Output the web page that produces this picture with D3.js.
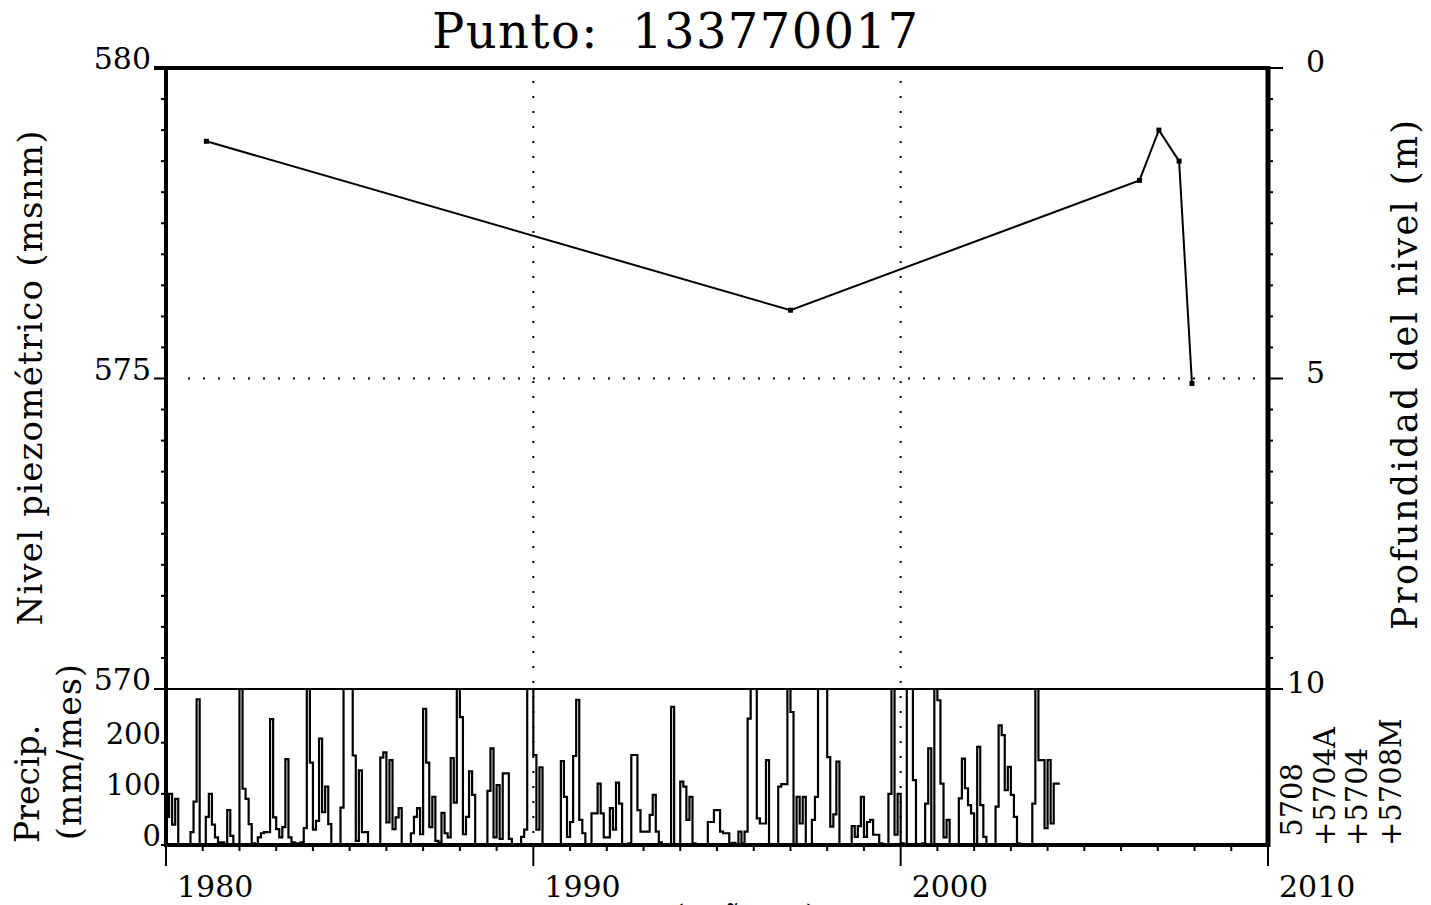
<!DOCTYPE html>
<html>
<head>
<meta charset="utf-8">
<script src="https://cdn.jsdelivr.net/npm/d3@7"></script>
<style>
  html, body { margin: 0; padding: 0; background: #fff; }
  svg { display: block; }
  text { font-family: "DejaVu Serif", "Liberation Serif", serif; fill: #000; }
</style>
</head>
<body>
<svg id="chart" width="1431" height="905"></svg>
<script>
// ---------------- DATA ----------------
const title = "Punto:  133770017";
const levelYears = [1981.1, 1997.0, 2006.5, 2007.03, 2007.58, 2007.93];
const levelValues = [578.82, 576.1, 578.19, 579.0, 578.5, 574.92];

const xTickValues = [1980, 1990, 2000, 2010];
const levelTickValues = [570, 575, 580];
const depthTickValues = [0, 5, 10];
const precipTickValues = [0, 100, 200];
const stationLabels = [" 5708", "+5704A", "+5704", "+5708M"];

// monthly precipitation (mm/mes), starting January 1980
const precip1980 = [55,100,40,90,0,0,0,0,25,85,285,0];
const precip1981 = [0,55,100,40,15,5,5,0,68,18,0,0];
const precip1982 = [310,110,90,41,3,0,15,23,25,25,246,54];
const precip1983 = [31,15,35,168,15,5,3,3,5,33,310,161];
const precip1984 = [30,47,208,64,114,41,0,0,0,73,310,310];
const precip1985 = [310,175,8,146,25,25,0,0,0,0,171,181];
const precip1986 = [44,166,31,54,72,0,0,0,23,55,72,21];
const precip1987 = [266,161,35,94,8,5,63,23,15,170,83,305];
const precip1988 = [250,21,55,144,98,0,0,0,0,106,189,15];
const precip1989 = [117,12,140,140,12,0,0,0,16,30,310,310];
const precip1990 = [176,30,152,0,0,0,0,0,0,164,94,16];
const precip1991 = [45,174,284,49,23,0,0,62,62,120,62,15];
const precip1992 = [15,72,30,122,81,0,0,3,176,176,68,26];
const precip1993 = [26,26,59,98,26,5,0,0,0,270,0,0];
const precip1994 = [124,114,49,94,3,0,0,0,0,45,45,68];
const precip1995 = [68,26,23,23,3,4,0,26,3,26,247,310];
const precip1996 = [310,52,42,42,166,0,0,0,114,119,119,310];
const precip1997 = [260,0,94,42,94,0,0,49,94,310,310,310];
const precip1998 = [172,36,60,163,0,0,0,0,37,16,37,94];
const precip1999 = [16,45,49,20,20,3,0,0,100,310,20,100];
const precip2000 = [3,0,310,310,127,0,0,3,81,189,0,310];
const precip2001 = [283,120,15,49,0,0,0,91,169,111,78,62];
const precip2002 = [0,192,78,16,0,0,0,75,234,215,107,153];
const precip2003 = [98,55,3,0,0,0,0,81,310,166,166,33];
const precip2004 = [166,42,120,120];

const precipMonthly = [].concat(precip1980, precip1981, precip1982, precip1983, precip1984,
  precip1985, precip1986, precip1987, precip1988, precip1989, precip1990, precip1991,
  precip1992, precip1993, precip1994, precip1995, precip1996, precip1997, precip1998,
  precip1999, precip2000, precip2001, precip2002, precip2003, precip2004);

// ---------------- LAYOUT ----------------
const L = 166, R = 1268, T = 68, MID = 689, B = 845;
const svg = d3.select("#chart");

const x = d3.scaleLinear().domain([1980, 2010]).range([L, R]);
const yLevel = d3.scaleLinear().domain([570, 580]).range([MID, T]);
const yDepth = d3.scaleLinear().domain([0, 10]).range([T, MID]);
const yPrecip = d3.scaleLinear().domain([0, 305]).range([B, MID]);

svg.append("clipPath").attr("id", "pclip")
  .append("rect").attr("x", L).attr("y", MID).attr("width", R - L).attr("height", B - MID);

// ---------------- GRID (dotted) ----------------
const grid = svg.append("g").attr("stroke", "#000").attr("stroke-width", 2)
  .attr("stroke-dasharray", "2,13").attr("fill", "none");
[1990, 2000].forEach(v => {
  grid.append("line").attr("x1", x(v)).attr("x2", x(v)).attr("y1", T + 13).attr("y2", B);
});
grid.append("line").attr("x1", L + 22).attr("x2", R).attr("y1", yLevel(575)).attr("y2", yLevel(575));

// ---------------- PRECIPITATION ----------------
const pPts = precipMonthly.map((v, i) => [1980 + i / 12, v]);
pPts.push([1980 + precipMonthly.length / 12, precipMonthly[precipMonthly.length - 1]]);
const stepLine = d3.line().x(d => x(d[0])).y(d => yPrecip(d[1])).curve(d3.curveStepAfter);
svg.append("path").datum([[1980, 0]].concat(pPts))
  .attr("clip-path", "url(#pclip)")
  .attr("d", stepLine)
  .attr("fill", "none").attr("stroke", "#000").attr("stroke-width", 2.2)
  .attr("stroke-linejoin", "miter");

// ---------------- LEVEL LINE ----------------
const levelPts = levelYears.map((t, i) => [t, levelValues[i]]);
svg.append("path").datum(levelPts)
  .attr("d", d3.line().x(d => x(d[0])).y(d => yLevel(d[1])))
  .attr("fill", "none").attr("stroke", "#000").attr("stroke-width", 2);
svg.append("g").selectAll("rect").data(levelPts).join("rect")
  .attr("x", d => x(d[0]) - 2.5).attr("y", d => yLevel(d[1]) - 2.5)
  .attr("width", 5).attr("height", 5).attr("fill", "#000");

// ---------------- AXES / TICKS ----------------
const tk = svg.append("g").attr("stroke", "#000").attr("stroke-width", 2);
d3.range(570, 580.01, 0.5).forEach(v => {
  const major = levelTickValues.includes(v);
  tk.append("line").attr("x1", L - (major ? 12 : 5)).attr("x2", L)
    .attr("y1", yLevel(v)).attr("y2", yLevel(v));
});
d3.range(0, 10.01, 0.5).forEach(v => {
  const major = depthTickValues.includes(v);
  tk.append("line").attr("x1", R).attr("x2", R + (major ? 15 : 5))
    .attr("y1", yDepth(v)).attr("y2", yDepth(v));
});
precipTickValues.forEach(v => {
  tk.append("line").attr("x1", L - 5).attr("x2", L).attr("y1", yPrecip(v)).attr("y2", yPrecip(v));
});
d3.range(1980, 2010.01, 1).forEach(v => {
  const major = xTickValues.includes(v);
  tk.append("line").attr("x1", x(v)).attr("x2", x(v))
    .attr("y1", B).attr("y2", B + (major ? 21 : 6));
});

// ---------------- FRAME ----------------
const fr = svg.append("g").attr("stroke", "#000").attr("fill", "none");
fr.append("line").attr("x1", L).attr("x2", L).attr("y1", T - 2).attr("y2", B + 2).attr("stroke-width", 4);
fr.append("line").attr("x1", L - 12).attr("x2", R + 2).attr("y1", T).attr("y2", T).attr("stroke-width", 4);
fr.append("line").attr("x1", R).attr("x2", R).attr("y1", T - 2).attr("y2", B + 2).attr("stroke-width", 5);
fr.append("line").attr("x1", L).attr("x2", R).attr("y1", B).attr("y2", B).attr("stroke-width", 4);
fr.append("line").attr("x1", L - 12).attr("x2", R + 15).attr("y1", MID).attr("y2", MID).attr("stroke-width", 2);

// ---------------- TEXT ----------------
svg.append("text").attr("x", 675).attr("y", 48).attr("text-anchor", "middle")
  .attr("font-size", 48).attr("textLength", 486).attr("lengthAdjust", "spacing")
  .style("white-space", "pre").text(title);

const fs = 30;
svg.append("g").selectAll("text").data(levelTickValues).join("text")
  .attr("x", 151).attr("y", d => yLevel(d) + 1).attr("text-anchor", "end")
  .attr("font-size", fs).text(d => d);
svg.append("g").selectAll("text").data(depthTickValues).join("text")
  .attr("x", 1325).attr("y", d => yDepth(d) + 4).attr("text-anchor", "end")
  .attr("font-size", fs).text(d => d);
svg.append("g").selectAll("text").data(precipTickValues).join("text")
  .attr("x", 161).attr("y", d => yPrecip(d) + 1).attr("text-anchor", "end")
  .attr("font-size", 29).text(d => d);
svg.append("g").selectAll("text").data(xTickValues).join("text")
  .attr("x", d => x(d) + 11).attr("y", 897).attr("text-anchor", "start")
  .attr("font-size", fs).text(d => d);

// axis titles
svg.append("text").attr("transform", "translate(42,378) rotate(-90)")
  .attr("text-anchor", "middle").attr("font-size", 34)
  .attr("textLength", 495).attr("lengthAdjust", "spacing").text("Nivel piezométrico (msnm)");
svg.append("text").attr("transform", "translate(1417,375) rotate(-90)")
  .attr("text-anchor", "middle").attr("font-size", 35)
  .attr("textLength", 510).attr("lengthAdjust", "spacing").text("Profundidad del nivel (m)");
svg.append("text").attr("transform", "translate(39,843) rotate(-90)")
  .attr("text-anchor", "start").attr("font-size", 33).text("Precip.");
svg.append("text").attr("transform", "translate(81,840) rotate(-90)")
  .attr("text-anchor", "start").attr("font-size", 33)
  .attr("textLength", 176).attr("lengthAdjust", "spacing").text("(mm/mes)");

// station labels
const stationX = [1302, 1335, 1367, 1401];
svg.append("g").selectAll("text").data(stationLabels).join("text")
  .attr("transform", (d, i) => `translate(${stationX[i]},846) rotate(-90)`)
  .attr("text-anchor", "start").attr("font-size", 29).style("white-space", "pre")
  .text(d => d);

// x-axis title, cut by the lower edge as in the original
svg.append("text").attr("x", 750).attr("y", 926).attr("text-anchor", "middle")
  .attr("font-size", 30).attr("letter-spacing", 10).text("(años)");
</script>
</body>
</html>
